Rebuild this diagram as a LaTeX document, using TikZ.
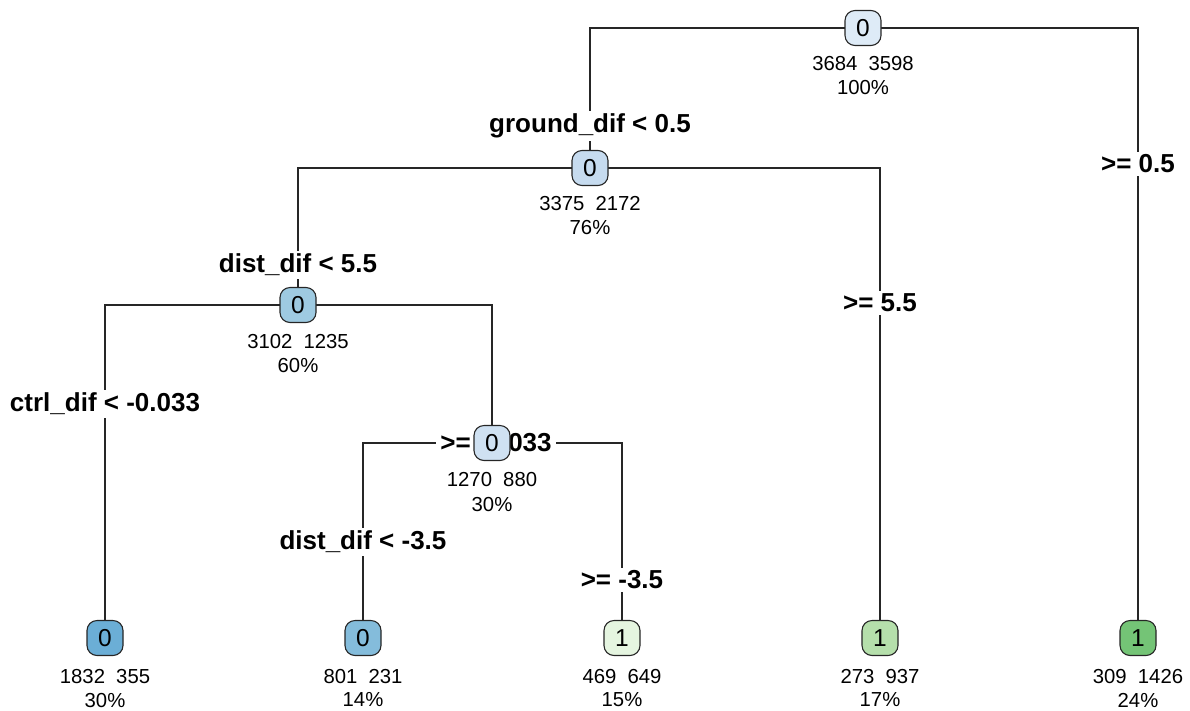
\documentclass[tikz,border=0pt]{standalone}
\usepackage{fontspec}
\setmainfont{Liberation Sans}
\pgfdeclarelayer{edgelayer}
\pgfdeclarelayer{labellayer}
\pgfsetlayers{edgelayer,labellayer,main}
\definecolor{cA}{HTML}{DEEBF7}
\definecolor{cB}{HTML}{C6DBEF}
\definecolor{cC}{HTML}{9ECAE1}
\definecolor{cD}{HTML}{CFE1F2}
\definecolor{cL1}{HTML}{6BAED6}
\definecolor{cL2}{HTML}{84BCDB}
\definecolor{cL3}{HTML}{E5F5E0}
\definecolor{cL4}{HTML}{B5DFAB}
\definecolor{cL5}{HTML}{74C476}
\begin{document}
\begin{tikzpicture}[x=1pt,y=-1pt,
  box/.style={draw=black!85, line width=1.1pt, rounded corners=10pt, minimum width=36pt, minimum height=35pt, inner sep=0pt, font=\fontsize{24.5}{24.5}\selectfont},
  lab/.style={fill=white, font=\fontsize{26}{28}\bfseries\selectfont, inner xsep=4pt, inner ysep=3pt},
  info/.style={font=\fontsize{20.3}{22}\selectfont, inner sep=0pt},
  edge/.style={line width=1.2pt, draw=black!85}]
\useasboundingbox (0,0) rectangle (1190,710);

% split nodes
\node[box, fill=cA] (n1) at (863,28) {0};
\node[box, fill=cB] (n2) at (590,168) {0};
\node[box, fill=cC] (n3) at (298,305) {0};
\node[box, fill=cD] (n4) at (492,443) {0};
% leaves
\node[box, fill=cL1] (l1) at (105,638) {0};
\node[box, fill=cL2] (l2) at (363,638) {0};
\node[box, fill=cL3] (l3) at (622,638) {1};
\node[box, fill=cL4] (l4) at (880,638) {1};
\node[box, fill=cL5] (l5) at (1138,638) {1};

% info texts
\node[info] (i1a) at (863,64) {3684\hspace{0.55em}3598};
\node[info] (i1b) at (863,88) {100\%};
\node[info] (i2a) at (590,204) {3375\hspace{0.55em}2172};
\node[info] (i2b) at (590,228) {76\%};
\node[info] (i3a) at (298,342) {3102\hspace{0.55em}1235};
\node[info] (i3b) at (298,366) {60\%};
\node[info] (i4a) at (492,480) {1270\hspace{0.55em}880};
\node[info] (i4b) at (492,505) {30\%};
\node[info] (j1a) at (105,676) {1832\hspace{0.55em}355};
\node[info] (j1b) at (105,700) {30\%};
\node[info] (j2a) at (363,676) {801\hspace{0.55em}231};
\node[info] (j2b) at (363,700) {14\%};
\node[info] (j3a) at (622,676) {469\hspace{0.55em}649};
\node[info] (j3b) at (622,700) {15\%};
\node[info] (j4a) at (880,676) {273\hspace{0.55em}937};
\node[info] (j4b) at (880,700) {17\%};
\node[info] (j5a) at (1138,676) {309\hspace{0.55em}1426};
\node[info] (j5b) at (1138,700) {24\%};

% split labels
\begin{pgfonlayer}{labellayer}
\node[lab] (s1) at (590,126) {ground\_dif < 0.5};
\node[lab] (s2) at (1138,164) {>= 0.5};
\node[lab] (s3) at (298,265) {dist\_dif < 5.5};
\node[lab] (s4) at (880,303) {>= 5.5};
\node[lab] (s5) at (105,404) {ctrl\_dif < -0.033};
\node[lab] (s6) at (496,443) {>= -0.033};
\node[lab] (s7) at (363,542) {dist\_dif < -3.5};
\node[lab] (s8) at (622,580) {>= -3.5};
\end{pgfonlayer}

% connectors
\begin{pgfonlayer}{edgelayer}
\draw[edge] (n1.center) -| (n2.center);
\draw[edge] (n1.center) -| (l5.center);
\draw[edge] (n2.center) -| (n3.center);
\draw[edge] (n2.center) -| (l4.center);
\draw[edge] (n3.center) -| (l1.center);
\draw[edge] (n3.center) -| (n4.center);
\draw[edge] (n4.center) -| (l2.center);
\draw[edge] (n4.center) -| (l3.center);
\end{pgfonlayer}
\end{tikzpicture}
\end{document}
